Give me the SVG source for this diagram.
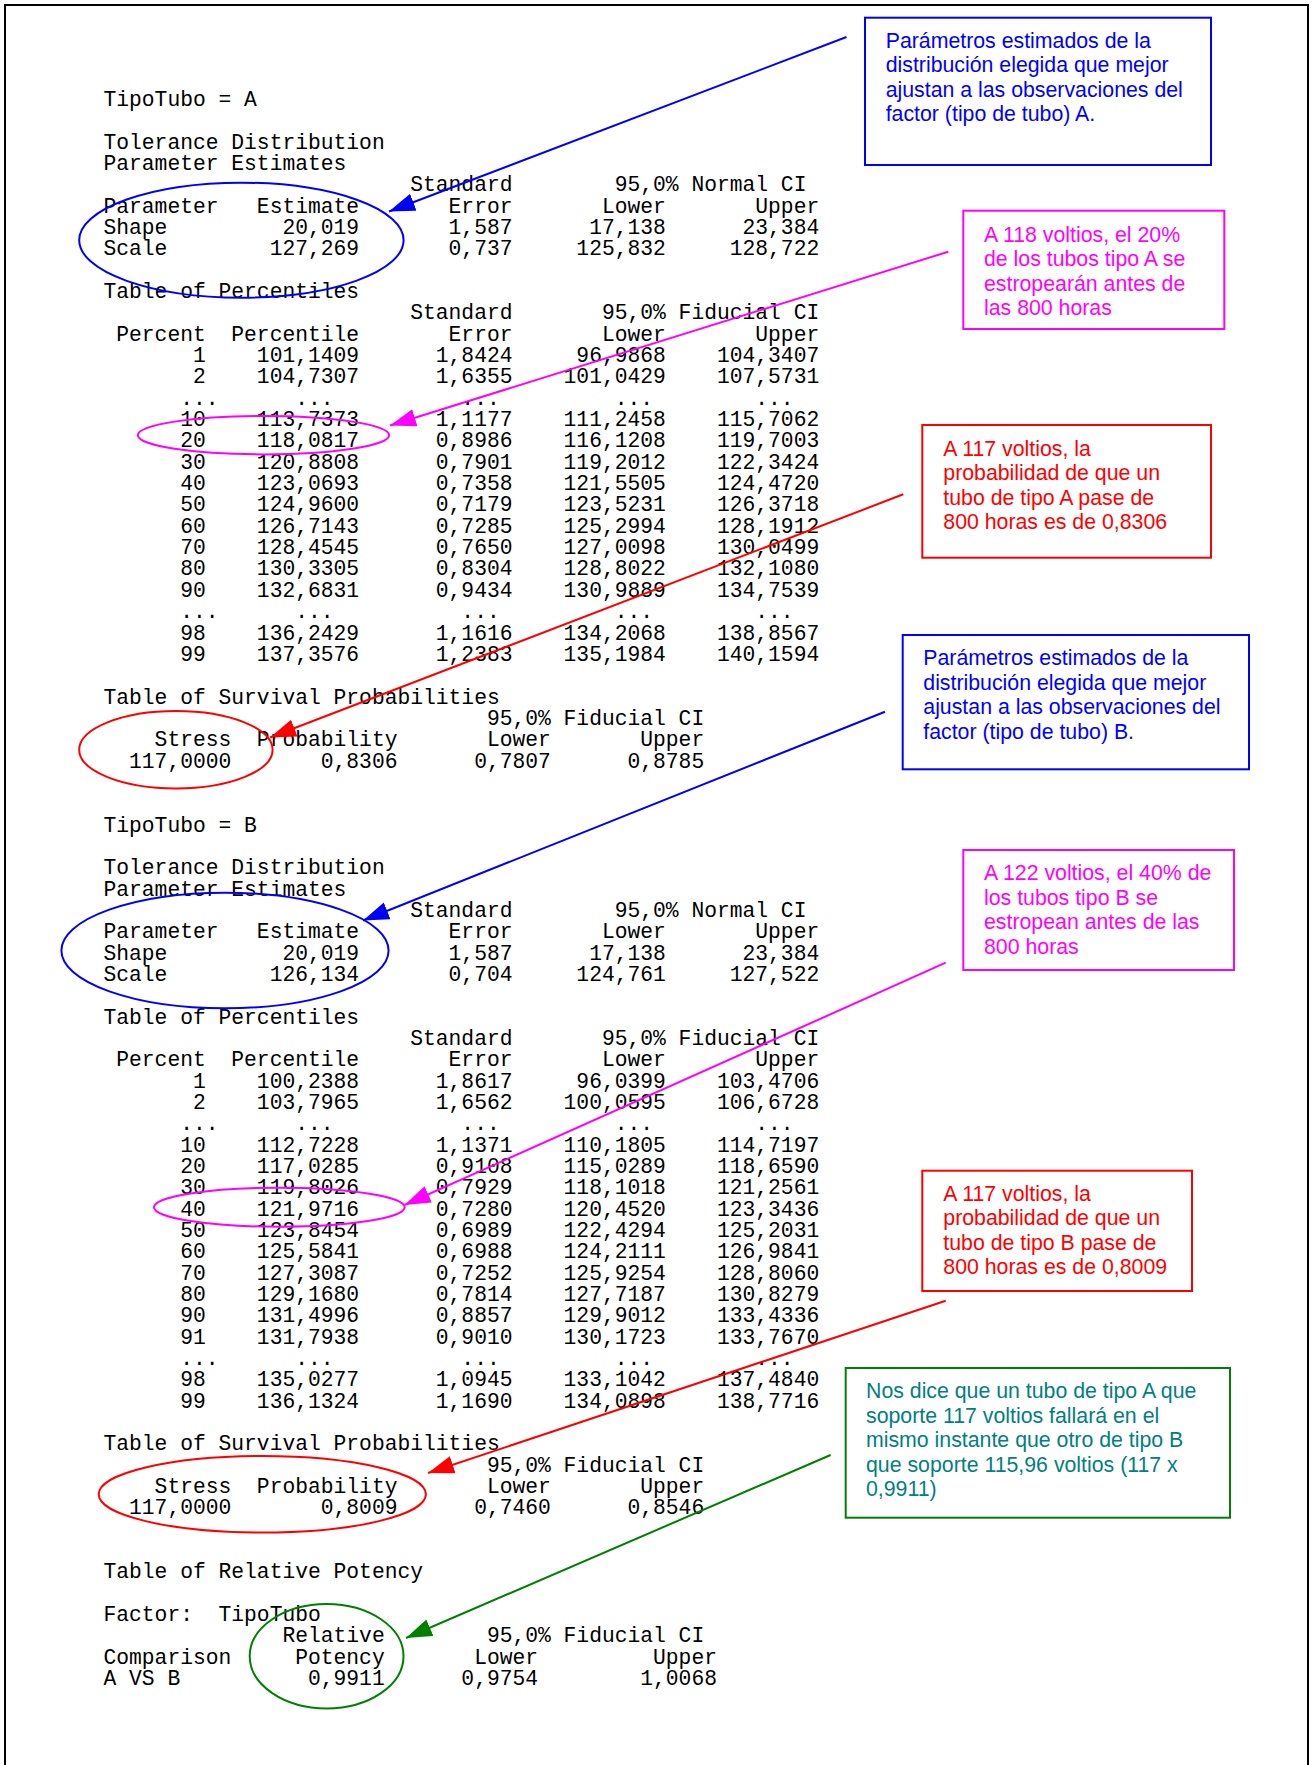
<svg xmlns="http://www.w3.org/2000/svg" width="1314" height="1765" viewBox="0 0 1314 1765">
<style>
.mono{font-family:"Liberation Mono","Courier New",monospace;font-size:21.3px;fill:#000}
.note{font-family:"Liberation Sans",Arial,sans-serif;font-size:21.3px}
.box{fill:none;stroke-width:2}
.ell{fill:none;stroke-width:2}
.con{fill:none;stroke-width:2}
</style>
<defs>
<marker id="ahBlue" markerUnits="userSpaceOnUse" markerWidth="28" markerHeight="20" refX="26" refY="9" orient="auto"><path d="M0,0 L26,9 L0,18 z" fill="#0000FF"/></marker>
<marker id="ahMag" markerUnits="userSpaceOnUse" markerWidth="28" markerHeight="20" refX="26" refY="9" orient="auto"><path d="M0,0 L26,9 L0,18 z" fill="#FF00FF"/></marker>
<marker id="ahRed" markerUnits="userSpaceOnUse" markerWidth="28" markerHeight="20" refX="26" refY="9" orient="auto"><path d="M0,0 L26,9 L0,18 z" fill="#FF0000"/></marker>
<marker id="ahGreen" markerUnits="userSpaceOnUse" markerWidth="28" markerHeight="20" refX="26" refY="9" orient="auto"><path d="M0,0 L26,9 L0,18 z" fill="#008000"/></marker>
</defs>
<rect x="0" y="0" width="1314" height="1765" fill="#fff"/>
<path d="M5,1765 V5 H1308 V1765" fill="none" stroke="#000" stroke-width="2"/>

<g id="output" class="mono">
<text x="103.5" y="106">TipoTubo&#160;=&#160;A</text>
<text x="103.5" y="148.68">Tolerance&#160;Distribution</text>
<text x="103.5" y="170.02">Parameter&#160;Estimates</text>
<text x="103.5" y="191.36">&#160;&#160;&#160;&#160;&#160;&#160;&#160;&#160;&#160;&#160;&#160;&#160;&#160;&#160;&#160;&#160;&#160;&#160;&#160;&#160;&#160;&#160;&#160;&#160;Standard&#160;&#160;&#160;&#160;&#160;&#160;&#160;&#160;95,0%&#160;Normal&#160;CI</text>
<text x="103.5" y="212.7">Parameter&#160;&#160;&#160;Estimate&#160;&#160;&#160;&#160;&#160;&#160;&#160;Error&#160;&#160;&#160;&#160;&#160;&#160;&#160;Lower&#160;&#160;&#160;&#160;&#160;&#160;&#160;Upper</text>
<text x="103.5" y="234.04">Shape&#160;&#160;&#160;&#160;&#160;&#160;&#160;&#160;&#160;20,019&#160;&#160;&#160;&#160;&#160;&#160;&#160;1,587&#160;&#160;&#160;&#160;&#160;&#160;17,138&#160;&#160;&#160;&#160;&#160;&#160;23,384</text>
<text x="103.5" y="255.38">Scale&#160;&#160;&#160;&#160;&#160;&#160;&#160;&#160;127,269&#160;&#160;&#160;&#160;&#160;&#160;&#160;0,737&#160;&#160;&#160;&#160;&#160;125,832&#160;&#160;&#160;&#160;&#160;128,722</text>
<text x="103.5" y="298.06">Table&#160;of&#160;Percentiles</text>
<text x="103.5" y="319.4">&#160;&#160;&#160;&#160;&#160;&#160;&#160;&#160;&#160;&#160;&#160;&#160;&#160;&#160;&#160;&#160;&#160;&#160;&#160;&#160;&#160;&#160;&#160;&#160;Standard&#160;&#160;&#160;&#160;&#160;&#160;&#160;95,0%&#160;Fiducial&#160;CI</text>
<text x="103.5" y="340.74">&#160;Percent&#160;&#160;Percentile&#160;&#160;&#160;&#160;&#160;&#160;&#160;Error&#160;&#160;&#160;&#160;&#160;&#160;&#160;Lower&#160;&#160;&#160;&#160;&#160;&#160;&#160;Upper</text>
<text x="103.5" y="362.08">&#160;&#160;&#160;&#160;&#160;&#160;&#160;1&#160;&#160;&#160;&#160;101,1409&#160;&#160;&#160;&#160;&#160;&#160;1,8424&#160;&#160;&#160;&#160;&#160;96,9868&#160;&#160;&#160;&#160;104,3407</text>
<text x="103.5" y="383.42">&#160;&#160;&#160;&#160;&#160;&#160;&#160;2&#160;&#160;&#160;&#160;104,7307&#160;&#160;&#160;&#160;&#160;&#160;1,6355&#160;&#160;&#160;&#160;101,0429&#160;&#160;&#160;&#160;107,5731</text>
<text x="103.5" y="404.76">&#160;&#160;&#160;&#160;&#160;&#160;...&#160;&#160;&#160;&#160;&#160;&#160;...&#160;&#160;&#160;&#160;&#160;&#160;&#160;&#160;&#160;&#160;...&#160;&#160;&#160;&#160;&#160;&#160;&#160;&#160;&#160;...&#160;&#160;&#160;&#160;&#160;&#160;&#160;&#160;...</text>
<text x="103.5" y="426.1">&#160;&#160;&#160;&#160;&#160;&#160;10&#160;&#160;&#160;&#160;113,7373&#160;&#160;&#160;&#160;&#160;&#160;1,1177&#160;&#160;&#160;&#160;111,2458&#160;&#160;&#160;&#160;115,7062</text>
<text x="103.5" y="447.44">&#160;&#160;&#160;&#160;&#160;&#160;20&#160;&#160;&#160;&#160;118,0817&#160;&#160;&#160;&#160;&#160;&#160;0,8986&#160;&#160;&#160;&#160;116,1208&#160;&#160;&#160;&#160;119,7003</text>
<text x="103.5" y="468.78">&#160;&#160;&#160;&#160;&#160;&#160;30&#160;&#160;&#160;&#160;120,8808&#160;&#160;&#160;&#160;&#160;&#160;0,7901&#160;&#160;&#160;&#160;119,2012&#160;&#160;&#160;&#160;122,3424</text>
<text x="103.5" y="490.12">&#160;&#160;&#160;&#160;&#160;&#160;40&#160;&#160;&#160;&#160;123,0693&#160;&#160;&#160;&#160;&#160;&#160;0,7358&#160;&#160;&#160;&#160;121,5505&#160;&#160;&#160;&#160;124,4720</text>
<text x="103.5" y="511.46">&#160;&#160;&#160;&#160;&#160;&#160;50&#160;&#160;&#160;&#160;124,9600&#160;&#160;&#160;&#160;&#160;&#160;0,7179&#160;&#160;&#160;&#160;123,5231&#160;&#160;&#160;&#160;126,3718</text>
<text x="103.5" y="532.8">&#160;&#160;&#160;&#160;&#160;&#160;60&#160;&#160;&#160;&#160;126,7143&#160;&#160;&#160;&#160;&#160;&#160;0,7285&#160;&#160;&#160;&#160;125,2994&#160;&#160;&#160;&#160;128,1912</text>
<text x="103.5" y="554.14">&#160;&#160;&#160;&#160;&#160;&#160;70&#160;&#160;&#160;&#160;128,4545&#160;&#160;&#160;&#160;&#160;&#160;0,7650&#160;&#160;&#160;&#160;127,0098&#160;&#160;&#160;&#160;130,0499</text>
<text x="103.5" y="575.48">&#160;&#160;&#160;&#160;&#160;&#160;80&#160;&#160;&#160;&#160;130,3305&#160;&#160;&#160;&#160;&#160;&#160;0,8304&#160;&#160;&#160;&#160;128,8022&#160;&#160;&#160;&#160;132,1080</text>
<text x="103.5" y="596.82">&#160;&#160;&#160;&#160;&#160;&#160;90&#160;&#160;&#160;&#160;132,6831&#160;&#160;&#160;&#160;&#160;&#160;0,9434&#160;&#160;&#160;&#160;130,9889&#160;&#160;&#160;&#160;134,7539</text>
<text x="103.5" y="618.16">&#160;&#160;&#160;&#160;&#160;&#160;...&#160;&#160;&#160;&#160;&#160;&#160;...&#160;&#160;&#160;&#160;&#160;&#160;&#160;&#160;&#160;&#160;...&#160;&#160;&#160;&#160;&#160;&#160;&#160;&#160;&#160;...&#160;&#160;&#160;&#160;&#160;&#160;&#160;&#160;...</text>
<text x="103.5" y="639.5">&#160;&#160;&#160;&#160;&#160;&#160;98&#160;&#160;&#160;&#160;136,2429&#160;&#160;&#160;&#160;&#160;&#160;1,1616&#160;&#160;&#160;&#160;134,2068&#160;&#160;&#160;&#160;138,8567</text>
<text x="103.5" y="660.84">&#160;&#160;&#160;&#160;&#160;&#160;99&#160;&#160;&#160;&#160;137,3576&#160;&#160;&#160;&#160;&#160;&#160;1,2383&#160;&#160;&#160;&#160;135,1984&#160;&#160;&#160;&#160;140,1594</text>
<text x="103.5" y="703.52">Table&#160;of&#160;Survival&#160;Probabilities</text>
<text x="103.5" y="724.86">&#160;&#160;&#160;&#160;&#160;&#160;&#160;&#160;&#160;&#160;&#160;&#160;&#160;&#160;&#160;&#160;&#160;&#160;&#160;&#160;&#160;&#160;&#160;&#160;&#160;&#160;&#160;&#160;&#160;&#160;95,0%&#160;Fiducial&#160;CI</text>
<text x="103.5" y="746.2">&#160;&#160;&#160;&#160;Stress&#160;&#160;Probability&#160;&#160;&#160;&#160;&#160;&#160;&#160;Lower&#160;&#160;&#160;&#160;&#160;&#160;&#160;Upper</text>
<text x="103.5" y="767.54">&#160;&#160;117,0000&#160;&#160;&#160;&#160;&#160;&#160;&#160;0,8306&#160;&#160;&#160;&#160;&#160;&#160;0,7807&#160;&#160;&#160;&#160;&#160;&#160;0,8785</text>

<text x="103.5" y="831.56">TipoTubo&#160;=&#160;B</text>
<text x="103.5" y="874.24">Tolerance&#160;Distribution</text>
<text x="103.5" y="895.58">Parameter&#160;Estimates</text>
<text x="103.5" y="916.92">&#160;&#160;&#160;&#160;&#160;&#160;&#160;&#160;&#160;&#160;&#160;&#160;&#160;&#160;&#160;&#160;&#160;&#160;&#160;&#160;&#160;&#160;&#160;&#160;Standard&#160;&#160;&#160;&#160;&#160;&#160;&#160;&#160;95,0%&#160;Normal&#160;CI</text>
<text x="103.5" y="938.26">Parameter&#160;&#160;&#160;Estimate&#160;&#160;&#160;&#160;&#160;&#160;&#160;Error&#160;&#160;&#160;&#160;&#160;&#160;&#160;Lower&#160;&#160;&#160;&#160;&#160;&#160;&#160;Upper</text>
<text x="103.5" y="959.6">Shape&#160;&#160;&#160;&#160;&#160;&#160;&#160;&#160;&#160;20,019&#160;&#160;&#160;&#160;&#160;&#160;&#160;1,587&#160;&#160;&#160;&#160;&#160;&#160;17,138&#160;&#160;&#160;&#160;&#160;&#160;23,384</text>
<text x="103.5" y="980.94">Scale&#160;&#160;&#160;&#160;&#160;&#160;&#160;&#160;126,134&#160;&#160;&#160;&#160;&#160;&#160;&#160;0,704&#160;&#160;&#160;&#160;&#160;124,761&#160;&#160;&#160;&#160;&#160;127,522</text>
<text x="103.5" y="1023.62">Table&#160;of&#160;Percentiles</text>
<text x="103.5" y="1044.96">&#160;&#160;&#160;&#160;&#160;&#160;&#160;&#160;&#160;&#160;&#160;&#160;&#160;&#160;&#160;&#160;&#160;&#160;&#160;&#160;&#160;&#160;&#160;&#160;Standard&#160;&#160;&#160;&#160;&#160;&#160;&#160;95,0%&#160;Fiducial&#160;CI</text>
<text x="103.5" y="1066.3">&#160;Percent&#160;&#160;Percentile&#160;&#160;&#160;&#160;&#160;&#160;&#160;Error&#160;&#160;&#160;&#160;&#160;&#160;&#160;Lower&#160;&#160;&#160;&#160;&#160;&#160;&#160;Upper</text>
<text x="103.5" y="1087.64">&#160;&#160;&#160;&#160;&#160;&#160;&#160;1&#160;&#160;&#160;&#160;100,2388&#160;&#160;&#160;&#160;&#160;&#160;1,8617&#160;&#160;&#160;&#160;&#160;96,0399&#160;&#160;&#160;&#160;103,4706</text>
<text x="103.5" y="1108.98">&#160;&#160;&#160;&#160;&#160;&#160;&#160;2&#160;&#160;&#160;&#160;103,7965&#160;&#160;&#160;&#160;&#160;&#160;1,6562&#160;&#160;&#160;&#160;100,0595&#160;&#160;&#160;&#160;106,6728</text>
<text x="103.5" y="1130.32">&#160;&#160;&#160;&#160;&#160;&#160;...&#160;&#160;&#160;&#160;&#160;&#160;...&#160;&#160;&#160;&#160;&#160;&#160;&#160;&#160;&#160;&#160;...&#160;&#160;&#160;&#160;&#160;&#160;&#160;&#160;&#160;...&#160;&#160;&#160;&#160;&#160;&#160;&#160;&#160;...</text>
<text x="103.5" y="1151.66">&#160;&#160;&#160;&#160;&#160;&#160;10&#160;&#160;&#160;&#160;112,7228&#160;&#160;&#160;&#160;&#160;&#160;1,1371&#160;&#160;&#160;&#160;110,1805&#160;&#160;&#160;&#160;114,7197</text>
<text x="103.5" y="1173">&#160;&#160;&#160;&#160;&#160;&#160;20&#160;&#160;&#160;&#160;117,0285&#160;&#160;&#160;&#160;&#160;&#160;0,9108&#160;&#160;&#160;&#160;115,0289&#160;&#160;&#160;&#160;118,6590</text>
<text x="103.5" y="1194.34">&#160;&#160;&#160;&#160;&#160;&#160;30&#160;&#160;&#160;&#160;119,8026&#160;&#160;&#160;&#160;&#160;&#160;0,7929&#160;&#160;&#160;&#160;118,1018&#160;&#160;&#160;&#160;121,2561</text>
<text x="103.5" y="1215.68">&#160;&#160;&#160;&#160;&#160;&#160;40&#160;&#160;&#160;&#160;121,9716&#160;&#160;&#160;&#160;&#160;&#160;0,7280&#160;&#160;&#160;&#160;120,4520&#160;&#160;&#160;&#160;123,3436</text>
<text x="103.5" y="1237.02">&#160;&#160;&#160;&#160;&#160;&#160;50&#160;&#160;&#160;&#160;123,8454&#160;&#160;&#160;&#160;&#160;&#160;0,6989&#160;&#160;&#160;&#160;122,4294&#160;&#160;&#160;&#160;125,2031</text>
<text x="103.5" y="1258.36">&#160;&#160;&#160;&#160;&#160;&#160;60&#160;&#160;&#160;&#160;125,5841&#160;&#160;&#160;&#160;&#160;&#160;0,6988&#160;&#160;&#160;&#160;124,2111&#160;&#160;&#160;&#160;126,9841</text>
<text x="103.5" y="1279.7">&#160;&#160;&#160;&#160;&#160;&#160;70&#160;&#160;&#160;&#160;127,3087&#160;&#160;&#160;&#160;&#160;&#160;0,7252&#160;&#160;&#160;&#160;125,9254&#160;&#160;&#160;&#160;128,8060</text>
<text x="103.5" y="1301.04">&#160;&#160;&#160;&#160;&#160;&#160;80&#160;&#160;&#160;&#160;129,1680&#160;&#160;&#160;&#160;&#160;&#160;0,7814&#160;&#160;&#160;&#160;127,7187&#160;&#160;&#160;&#160;130,8279</text>
<text x="103.5" y="1322.38">&#160;&#160;&#160;&#160;&#160;&#160;90&#160;&#160;&#160;&#160;131,4996&#160;&#160;&#160;&#160;&#160;&#160;0,8857&#160;&#160;&#160;&#160;129,9012&#160;&#160;&#160;&#160;133,4336</text>
<text x="103.5" y="1343.72">&#160;&#160;&#160;&#160;&#160;&#160;91&#160;&#160;&#160;&#160;131,7938&#160;&#160;&#160;&#160;&#160;&#160;0,9010&#160;&#160;&#160;&#160;130,1723&#160;&#160;&#160;&#160;133,7670</text>
<text x="103.5" y="1365.06">&#160;&#160;&#160;&#160;&#160;&#160;...&#160;&#160;&#160;&#160;&#160;&#160;...&#160;&#160;&#160;&#160;&#160;&#160;&#160;&#160;&#160;&#160;...&#160;&#160;&#160;&#160;&#160;&#160;&#160;&#160;&#160;...&#160;&#160;&#160;&#160;&#160;&#160;&#160;&#160;...</text>
<text x="103.5" y="1386.4">&#160;&#160;&#160;&#160;&#160;&#160;98&#160;&#160;&#160;&#160;135,0277&#160;&#160;&#160;&#160;&#160;&#160;1,0945&#160;&#160;&#160;&#160;133,1042&#160;&#160;&#160;&#160;137,4840</text>
<text x="103.5" y="1407.74">&#160;&#160;&#160;&#160;&#160;&#160;99&#160;&#160;&#160;&#160;136,1324&#160;&#160;&#160;&#160;&#160;&#160;1,1690&#160;&#160;&#160;&#160;134,0898&#160;&#160;&#160;&#160;138,7716</text>
<text x="103.5" y="1450.42">Table&#160;of&#160;Survival&#160;Probabilities</text>
<text x="103.5" y="1471.76">&#160;&#160;&#160;&#160;&#160;&#160;&#160;&#160;&#160;&#160;&#160;&#160;&#160;&#160;&#160;&#160;&#160;&#160;&#160;&#160;&#160;&#160;&#160;&#160;&#160;&#160;&#160;&#160;&#160;&#160;95,0%&#160;Fiducial&#160;CI</text>
<text x="103.5" y="1493.1">&#160;&#160;&#160;&#160;Stress&#160;&#160;Probability&#160;&#160;&#160;&#160;&#160;&#160;&#160;Lower&#160;&#160;&#160;&#160;&#160;&#160;&#160;Upper</text>
<text x="103.5" y="1514.44">&#160;&#160;117,0000&#160;&#160;&#160;&#160;&#160;&#160;&#160;0,8009&#160;&#160;&#160;&#160;&#160;&#160;0,7460&#160;&#160;&#160;&#160;&#160;&#160;0,8546</text>

<text x="103.5" y="1578.46">Table&#160;of&#160;Relative&#160;Potency</text>
<text x="103.5" y="1621.14">Factor:&#160;&#160;TipoTubo</text>
<text x="103.5" y="1642.48">&#160;&#160;&#160;&#160;&#160;&#160;&#160;&#160;&#160;&#160;&#160;&#160;&#160;&#160;Relative&#160;&#160;&#160;&#160;&#160;&#160;&#160;&#160;95,0%&#160;Fiducial&#160;CI</text>
<text x="103.5" y="1663.82">Comparison&#160;&#160;&#160;&#160;&#160;Potency&#160;&#160;&#160;&#160;&#160;&#160;&#160;Lower&#160;&#160;&#160;&#160;&#160;&#160;&#160;&#160;&#160;Upper</text>
<text x="103.5" y="1685.16">A&#160;VS&#160;B&#160;&#160;&#160;&#160;&#160;&#160;&#160;&#160;&#160;&#160;0,9911&#160;&#160;&#160;&#160;&#160;&#160;0,9754&#160;&#160;&#160;&#160;&#160;&#160;&#160;&#160;1,0068</text>
</g>

<g id="highlights">
<g id="ell-paramA"><ellipse class="ell" cx="241.4" cy="240.2" rx="162.2" ry="57.5" stroke="#0000FF"/></g>
<g id="ell-pctA"><ellipse class="ell" cx="263.5" cy="435.2" rx="125.7" ry="19.2" stroke="#FF00FF"/></g>
<g id="ell-survA"><ellipse class="ell" cx="175.9" cy="749.7" rx="96.7" ry="38.7" stroke="#FF0000"/></g>
<g id="ell-paramB"><ellipse class="ell" cx="225" cy="950.5" rx="163.6" ry="57.8" stroke="#0000FF"/></g>
<g id="ell-pctB"><ellipse class="ell" cx="279.3" cy="1207.2" rx="125.4" ry="19.5" stroke="#FF00FF"/></g>
<g id="ell-survB"><ellipse class="ell" cx="262.3" cy="1494.3" rx="163.6" ry="38.3" stroke="#FF0000"/></g>
<g id="ell-potency"><ellipse class="ell" cx="326.6" cy="1656.2" rx="76.9" ry="52.2" stroke="#008000"/></g>
</g>

<g id="connectors">
<line class="con" x1="846.5" y1="37" x2="389" y2="211.5" stroke="#0000FF" marker-end="url(#ahBlue)"/>
<line class="con" x1="948.3" y1="251.7" x2="390" y2="425.5" stroke="#FF00FF" marker-end="url(#ahMag)"/>
<line class="con" x1="903.3" y1="494.3" x2="270" y2="737.5" stroke="#FF0000" marker-end="url(#ahRed)"/>
<line class="con" x1="885" y1="711.7" x2="363" y2="920.5" stroke="#0000FF" marker-end="url(#ahBlue)"/>
<line class="con" x1="945.7" y1="962.7" x2="404.5" y2="1205" stroke="#FF00FF" marker-end="url(#ahMag)"/>
<line class="con" x1="945.7" y1="1300.7" x2="428" y2="1473" stroke="#FF0000" marker-end="url(#ahRed)"/>
<line class="con" x1="830.6" y1="1455" x2="406" y2="1638" stroke="#008000" marker-end="url(#ahGreen)"/>
</g>

<g id="note-paramA">
<rect class="box" x="865" y="17.7" width="346" height="147.3" stroke="#0000FF"/>
<text class="note" fill="#0000FF"><tspan x="885.7" y="47.7">Parámetros estimados de la</tspan><tspan x="885.7" y="72.2">distribución elegida que mejor</tspan><tspan x="885.7" y="96.7">ajustan a las observaciones del</tspan><tspan x="885.7" y="121.2">factor (tipo de tubo) A.</tspan></text>
</g>
<g id="note-pctA">
<rect class="box" x="963.3" y="210.7" width="261" height="118.3" stroke="#FF00FF"/>
<text class="note" fill="#FF00FF"><tspan x="984" y="241.7">A 118 voltios, el 20%</tspan><tspan x="984" y="266.2">de los tubos tipo A se</tspan><tspan x="984" y="290.7">estropearán antes de</tspan><tspan x="984" y="315.2">las 800 horas</tspan></text>
</g>
<g id="note-survA">
<rect class="box" x="922.3" y="425" width="288.7" height="132.7" stroke="#FF0000"/>
<text class="note" fill="#FF0000"><tspan x="943.3" y="455.7">A 117 voltios, la</tspan><tspan x="943.3" y="480.2">probabilidad de que un</tspan><tspan x="943.3" y="504.7">tubo de tipo A pase de</tspan><tspan x="943.3" y="529.2">800 horas es de 0,8306</tspan></text>
</g>
<g id="note-paramB">
<rect class="box" x="902.7" y="635" width="346.3" height="134.3" stroke="#0000FF"/>
<text class="note" fill="#0000FF"><tspan x="923.3" y="665">Parámetros estimados de la</tspan><tspan x="923.3" y="689.5">distribución elegida que mejor</tspan><tspan x="923.3" y="714">ajustan a las observaciones del</tspan><tspan x="923.3" y="738.5">factor (tipo de tubo) B.</tspan></text>
</g>
<g id="note-pctB">
<rect class="box" x="963.3" y="850" width="270.7" height="120" stroke="#FF00FF"/>
<text class="note" fill="#FF00FF"><tspan x="984" y="880">A 122 voltios, el 40% de</tspan><tspan x="984" y="904.5">los tubos tipo B se</tspan><tspan x="984" y="929">estropean antes de las</tspan><tspan x="984" y="953.5">800 horas</tspan></text>
</g>
<g id="note-survB">
<rect class="box" x="922.3" y="1170.7" width="269.7" height="120.3" stroke="#FF0000"/>
<text class="note" fill="#FF0000"><tspan x="943.3" y="1200.7">A 117 voltios, la</tspan><tspan x="943.3" y="1225.2">probabilidad de que un</tspan><tspan x="943.3" y="1249.7">tubo de tipo B pase de</tspan><tspan x="943.3" y="1274.2">800 horas es de 0,8009</tspan></text>
</g>
<g id="note-potency">
<rect class="box" x="845.7" y="1368" width="384.3" height="149.7" stroke="#008000"/>
<text class="note" fill="#008080"><tspan x="866" y="1398.3">Nos dice que un tubo de tipo A que</tspan><tspan x="866" y="1422.8">soporte 117 voltios fallará en el</tspan><tspan x="866" y="1447.3">mismo instante que otro de tipo B</tspan><tspan x="866" y="1471.8">que soporte 115,96 voltios (117 x</tspan><tspan x="866" y="1496.3">0,9911)</tspan></text>
</g>
</svg>
